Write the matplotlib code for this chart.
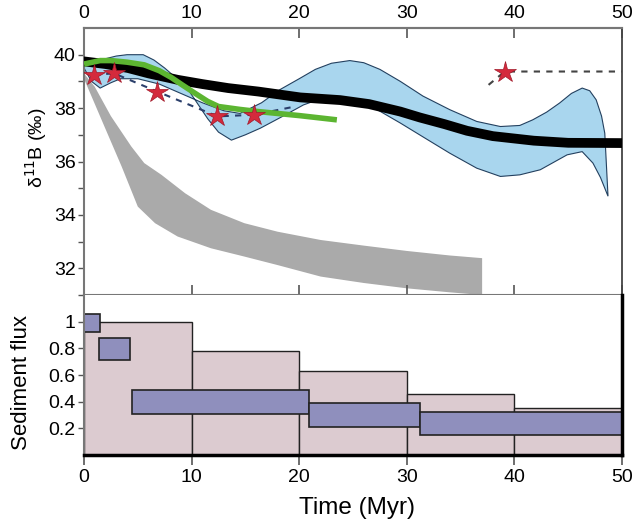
import numpy as np
import matplotlib
matplotlib.use("Agg")
import matplotlib.pyplot as plt

plt.rcParams["font.family"] = ["Liberation Sans", "DejaVu Sans"]

# ---- top panel: d11B curves ----
grey_up_x = [0, 1, 2.5, 4.4, 5.6, 7.2, 9.4, 11.8, 14.9, 18, 22, 26, 30, 34, 37]
grey_up_y = [39.3, 38.8, 37.7, 36.56, 35.94, 35.5, 34.81, 34.19, 33.69, 33.37, 33.06, 32.85, 32.65, 32.48, 32.38]
grey_lo_x = [0, 1.9, 3.5, 5, 6.6, 8.7, 11.8, 14.9, 18, 22, 26, 30, 34, 37]
grey_lo_y = [39.1, 37.31, 35.81, 34.31, 33.69, 33.19, 32.75, 32.44, 32.12, 31.69, 31.45, 31.25, 31.1, 31.0]

band_a_x = [0, 1, 2, 3, 4, 5.5, 6.5, 7.5, 8.5, 9.5, 10.5, 11.5, 12.5, 13.7, 15, 16.4, 18.5,
            20.4, 22, 23.2, 25, 27, 29.4, 32, 34, 36.5, 38.7, 40.5, 42.4, 44.9, 46.3, 47.3, 48.0, 48.7]
band_a_y = [39.75, 39.8, 39.85, 39.95, 40.0, 40.0, 39.8, 39.5, 39.15, 38.8, 38.2, 37.6, 37.1, 36.8, 37.0, 37.25, 37.7,
            38.12, 38.35, 38.44, 38.3, 38.0, 37.44, 36.8, 36.31, 35.75, 35.44, 35.5, 35.69, 36.25, 36.37, 35.94, 35.4, 34.7]
band_b_x = [0, 0.7, 1.5, 2.5, 3.4, 5, 7, 9, 11, 13, 14.5, 16.5, 18.2, 20, 21.5, 23, 24.7, 26, 27.5,
            29.4, 31.5, 34, 36.5, 38.7, 40.5, 41.7, 43, 44.2, 45.3, 46.3, 47, 47.6, 48.1, 48.4, 48.7]
band_b_y = [39.5, 39.0, 38.75, 38.95, 39.1, 39.1, 38.9, 38.55, 38.2, 37.9, 37.8, 38.2, 38.69, 39.1, 39.45, 39.68, 39.78, 39.7, 39.45,
            39.0, 38.45, 37.94, 37.5, 37.31, 37.35, 37.56, 37.85, 38.19, 38.55, 38.75, 38.65, 38.31, 37.7, 37.06, 34.7]

black_x = [0, 2, 4.1, 6, 8.7, 11, 13.4, 16.2, 20.1, 23.8, 26.5, 29.4, 31.2, 33.5, 35.6, 38, 41.8, 45, 50]
black_y = [39.75, 39.65, 39.5, 39.3, 39.06, 38.9, 38.75, 38.62, 38.4, 38.3, 38.15, 37.87, 37.65, 37.4, 37.15, 36.95, 36.78, 36.7, 36.69]

green_x = [0, 1.5, 2.5, 4, 5.6, 7, 8.1, 9.2, 10.3, 11.5, 12.5, 14.5, 16.2, 20, 23.5]
green_y = [39.65, 39.78, 39.78, 39.72, 39.62, 39.4, 39.15, 38.85, 38.56, 38.25, 38.06, 37.95, 37.87, 37.72, 37.56]

star_x = [0.9, 2.8, 6.8, 12.4, 15.8, 39.1]
star_y = [39.25, 39.3, 38.62, 37.69, 37.75, 39.37]
dash_left_x = [0.9, 2.8, 6.8, 12.4, 15.8, 19.5]
dash_left_y = [39.25, 39.3, 38.62, 37.69, 37.75, 38.05]
dash_right_x = [37.6, 39.1, 50]
dash_right_y = [38.87, 39.37, 39.37]

# ---- bottom panel: sediment flux ----
flux_left = [0, 10, 20, 30, 40]
flux_height = [1.0, 0.78, 0.63, 0.46, 0.355]
box_left = [0, 1.4, 4.5, 20.9, 31.2]
box_right = [1.5, 4.3, 20.9, 31.2, 50]
box_bottom = [0.92, 0.71, 0.31, 0.21, 0.15]
box_top = [1.06, 0.88, 0.49, 0.39, 0.32]

W, H = 634, 528
fig = plt.figure(figsize=(W / 100, H / 100), dpi=100)
ax1 = fig.add_axes([84 / W, 1 - 295 / H, 538 / W, 267 / H])
ax2 = fig.add_axes([84 / W, 1 - 455 / H, 538 / W, 160 / H])

# grey band
ax1.fill(np.r_[grey_up_x, grey_lo_x[::-1]], np.r_[grey_up_y, grey_lo_y[::-1]],
         color="#aaaaaa", lw=0, zorder=1)
# blue envelope
ax1.fill(np.r_[band_a_x, band_b_x[::-1]], np.r_[band_a_y, band_b_y[::-1]],
         facecolor="#a9d6ee", edgecolor="#23405f", lw=0.8, zorder=2)
ax1.plot(dash_left_x, dash_left_y, ls=(0, (3, 3)), color="#2b3f6b", lw=1.5, zorder=3)
ax1.plot(dash_right_x, dash_right_y, ls=(0, (3, 3)), color="#444444", lw=1.5, zorder=3)
ax1.plot(black_x, black_y, color="black", lw=7, solid_capstyle="round", zorder=4)
ax1.plot(green_x, green_y, color="#5cb531", lw=4, solid_capstyle="butt", zorder=5)
ax1.plot(star_x, star_y, ls="none", marker="*", ms=16, color="#d42a3c",
         mec="#a01828", mew=0.5, zorder=6)

ax1.set_xlim(0, 50)
ax1.set_ylim(31, 41)
ax1.set_yticks([32, 34, 36, 38, 40])
ax1.set_yticks(range(31, 41, 2), minor=True)
ax1.set_xticks(range(0, 51, 10))
ax1.tick_params(axis="y", which="both", direction="out", length=4, width=1,
                color="#555555", labelsize=14, pad=2)
ax1.tick_params(axis="x", direction="inout", length=14, width=1.2, color="#555555",
                labelbottom=False)
top = ax1.secondary_xaxis("top")
top.set_xticks(range(0, 51, 10))
top.tick_params(direction="in", length=7, width=1.2, color="#555555", labelsize=14, pad=4)
for sp in ["top", "left", "bottom"]:
    ax1.spines[sp].set_color("#777777")
    ax1.spines[sp].set_linewidth(1.5)
top.spines["top"].set_color("#777777")
top.spines["top"].set_linewidth(1.5)
ax1.spines["right"].set_color("#444444")
ax1.spines["right"].set_linewidth(1.3)
ax1.set_ylabel(r"δ$^{11}$B (‰)", fontsize=14, va="center")
ax1.yaxis.set_label_coords(-0.09, 0.55)

# sediment flux
ax2.bar(flux_left, flux_height, width=10, align="edge", color="#dccbd0",
        edgecolor="#222222", lw=1, zorder=1)
ax2.bar(box_left, np.subtract(box_top, box_bottom), width=np.subtract(box_right, box_left),
        bottom=box_bottom, align="edge", color="#8f8fbd", edgecolor="#222222", lw=1.2, zorder=2)
ax2.set_xlim(0, 50)
ax2.set_ylim(0, 1.2)
ax2.set_yticks([0.2, 0.4, 0.6, 0.8, 1.0])
ax2.set_yticklabels(["0.2", "0.4", "0.6", "0.8", "1"])
ax2.set_xticks(range(0, 51, 10))
ax2.tick_params(axis="y", direction="out", length=4, width=1, color="#555555",
                labelsize=14, pad=2)
ax2.tick_params(axis="x", direction="out", length=7, width=1.2, color="#555555",
                labelsize=14, pad=3)
ax2.spines["top"].set_visible(False)
ax2.spines["left"].set_color("#777777")
ax2.spines["left"].set_linewidth(1.5)
ax2.spines["bottom"].set_color("black")
ax2.spines["bottom"].set_linewidth(2.5)
ax2.spines["right"].set_color("black")
ax2.spines["right"].set_linewidth(2.5)
ax2.set_ylabel("Sediment flux", fontsize=16, va="center")
ax2.yaxis.set_label_coords(-0.117, 0.45)
ax2.set_xlabel("Time (Myr)", fontsize=17.5, va="center")
ax2.xaxis.set_label_coords(0.507, -0.33)

fig.savefig("out.png", dpi=100)
